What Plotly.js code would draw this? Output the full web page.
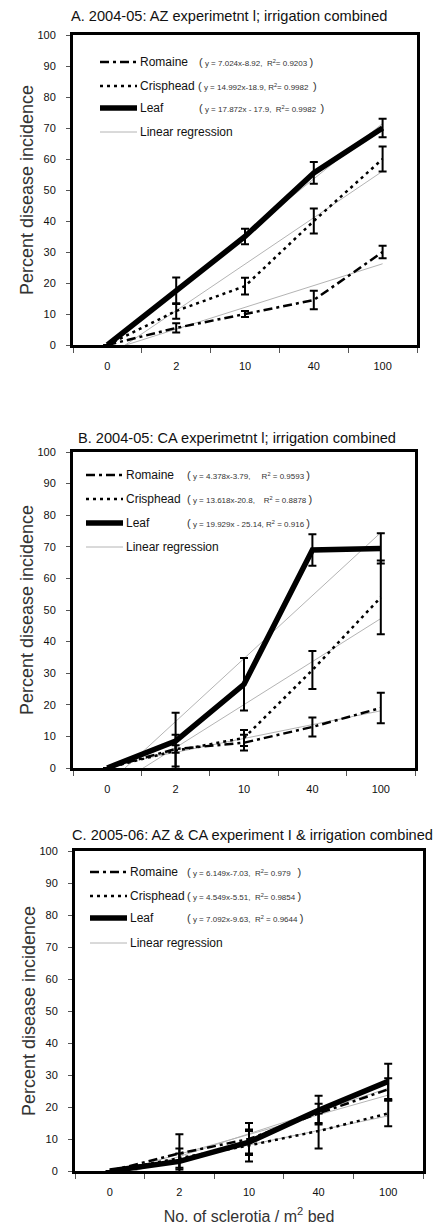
<!DOCTYPE html>
<html>
<head>
<meta charset="utf-8">
<script src="https://cdn.plot.ly/plotly-3.0.1.min.js"></script>
<style>html,body{margin:0;padding:0;background:#fff;}#chart{width:440px;height:1226px;}</style>
</head>
<body>
<div id="chart"></div>
<script>
// ---------- DATA ----------
var categories = ["0", "2", "10", "40", "100"];
var fitEnds = ["0", "100"];

// Panel A: 2004-05 AZ
var romaineA = [0, 5.5, 10, 14.5, 30];
var romaineErrA = [0, 1.5, 1, 3, 2];
var crispA = [0, 11, 19, 40, 60];
var crispErrA = [0, 2.5, 2.7, 4, 4];
var leafA = [0, 17.5, 35, 55.5, 70];
var leafErrA = [0, 4.3, 2.5, 3.5, 3];
var romaineFitA = [-1.9, 26.2];
var crispFitA = [-3.9, 56.06];
var leafFitA = [-0.03, 71.46];
var eqA = ["y = 7.024x-8.92,  R<sup>2</sup>= 0.9203", "y = 14.992x-18.9, R<sup>2</sup>= 0.9982 ", "y = 17.872x - 17.9,  R<sup>2</sup>= 0.9982 "];

// Panel B: 2004-05 CA
var romaineB = [0, 6, 8, 13, 19];
var romaineErrB = [0, 1.2, 2.5, 3, 4.8];
var crispB = [0, 5.5, 9.5, 31, 54];
var crispErrB = [0, 5, 2.5, 6, 11.7];
var leafB = [0, 8.5, 26.5, 69, 69.5];
var leafErrB = [0, 9, 8.3, 5, 4.8];
var romaineFitB = [0.59, 18.1];
var crispFitB = [-7.18, 47.29];
var leafFitB = [-5.21, 74.5];
var eqB = ["y = 4.378x-3.79,     R<sup>2</sup> = 0.9593", "y = 13.618x-20.8,    R<sup>2</sup> = 0.8878", "y = 19.929x - 25.14, R<sup>2</sup> = 0.916"];

// Panel C: 2005-06 AZ & CA
var romaineC = [0, 5.5, 10, 18, 25.5];
var romaineErrC = [0, 6, 5, 3, 3.5];
var crispC = [0, 4, 8, 12.5, 18];
var crispErrC = [0, 3, 5, 5.5, 4];
var leafC = [0, 3, 9, 19, 28];
var leafErrC = [0, 2.5, 3.5, 4.5, 5.5];
var romaineFitC = [-0.88, 23.72];
var crispFitC = [-0.96, 17.23];
var leafFitC = [-2.54, 25.83];
var eqC = ["y = 6.149x-7.03,  R<sup>2</sup>= 0.979  ", "y = 4.549x-5.51,  R<sup>2</sup>= 0.9854", "y = 7.092x-9.63,  R<sup>2</sup> = 0.9644"];

var panelTitles = ["A. 2004-05: AZ experimetnt l; irrigation combined",
                   "B. 2004-05: CA experimetnt l; irrigation combined",
                   "C. 2005-06: AZ & CA experiment I & irrigation combined"];
var seriesNames = ["Romaine", "Crisphead", "Leaf"];
var fitName = "Linear regression";
var yTitle = "Percent disease incidence";
var xTitle = "No. of sclerotia / m<sup>2</sup> bed";

// ---------- LAYOUT HELPERS ----------
var W = 440, H = 1226;
function px(v) { return v / W; }
function py(v) { return 1 - v / H; }
var NARROW = "'Liberation Sans Narrow', 'Arial Narrow', 'Liberation Sans', Arial, sans-serif";
var SANS = "'Liberation Sans', Arial, sans-serif";

var panels = [
  {data: [romaineA, crispA, leafA], err: [romaineErrA, crispErrA, leafErrA], fit: [romaineFitA, crispFitA, leafFitA], eq: eqA,
   box: [73, 417, 35, 345], title: [229, 16], sample: [100, 137], rows: [62, 86, 108, 132], eqx: [197, 196, 197]},
  {data: [romaineB, crispB, leafB], err: [romaineErrB, crispErrB, leafErrB], fit: [romaineFitB, crispFitB, leafFitB], eq: eqB,
   box: [73, 415, 452, 768], title: [237, 438], sample: [86, 123], rows: [475, 499, 523, 547], eqx: [185, 185, 185]},
  {data: [romaineC, crispC, leafC], err: [romaineErrC, crispErrC, leafErrC], fit: [romaineFitC, crispFitC, leafFitC], eq: eqC,
   box: [75, 423, 851, 1171], title: [253, 835], sample: [90, 127], rows: [872, 896, 918, 943], eqx: [185, 185, 185]}
];

var styles = [
  {dash: "9px,4px,3px,4px", width: 2.5},
  {dash: "3px,4px", width: 2.5},
  {dash: "solid", width: 5.5}
];
var fitStyle = {color: "#b4b4b4", width: 1};

var traces = [];
var annotations = [];
var shapes = [];
var layout = {
  width: W, height: H,
  margin: {l: 0, r: 0, t: 0, b: 0},
  paper_bgcolor: "#fff", plot_bgcolor: "#fff",
  font: {family: NARROW, color: "#111", size: 12},
  showlegend: false
};

panels.forEach(function (p, i) {
  var n = i === 0 ? "" : String(i + 1);
  var xa = "x" + n, ya = "y" + n;

  // regression lines (underneath)
  p.fit.forEach(function (f, k) {
    traces.push({
      type: "scatter", mode: "lines", x: fitEnds, y: f, xaxis: xa, yaxis: ya,
      line: fitStyle, name: fitName + " (" + seriesNames[k] + ")", hoverinfo: "skip"
    });
  });
  // data series with error bars
  p.data.forEach(function (d, k) {
    traces.push({
      type: "scatter", mode: "lines", x: categories, y: d, xaxis: xa, yaxis: ya,
      line: {color: "#000", width: styles[k].width, dash: styles[k].dash},
      error_y: {type: "data", array: p.err[k], visible: true, color: "#000", thickness: 2, width: 4},
      name: seriesNames[k]
    });
  });

  var b = p.box;
  layout["xaxis" + n] = {
    type: "category", categoryorder: "array", categoryarray: categories,
    domain: [px(b[0]), px(b[1])], anchor: ya,
    range: [-0.5, 4.5], tickson: "boundaries", ticks: "outside", ticklen: 5, tickwidth: 1, tickcolor: "#555",
    showline: true, mirror: true, linewidth: 3, linecolor: "#000", showgrid: false, zeroline: false,
    tickfont: {family: NARROW, size: 11, color: "#111"}, ticklabelstandoff: 9, fixedrange: true
  };
  layout["yaxis" + n] = {
    domain: [py(b[3]), py(b[2])], anchor: xa, range: [0, 100], dtick: 10,
    ticks: "outside", ticklen: 4, tickwidth: 1, tickcolor: "#555",
    showline: true, mirror: true, linewidth: 3, linecolor: "#000", showgrid: false, zeroline: false,
    tickfont: {family: NARROW, size: 11, color: "#111"}, ticklabelstandoff: 8,
    title: {text: yTitle, font: {family: SANS, size: 18, color: "#333"}, standoff: 0}, fixedrange: true
  };
  if (i === 2) {
    layout["xaxis" + n].title = {text: xTitle, font: {family: SANS, size: 16, color: "#333"}, standoff: 14};
  }

  // panel title
  annotations.push({
    xref: "paper", yref: "paper", x: px(p.title[0]), y: py(p.title[1]), xanchor: "center", yanchor: "middle",
    text: panelTitles[i], showarrow: false, font: {family: NARROW, size: 14.6, color: "#111"}
  });

  // legend (line samples + labels + equations)
  var legendLines = [
    {color: "#000", width: styles[0].width, dash: styles[0].dash},
    {color: "#000", width: styles[1].width, dash: styles[1].dash},
    {color: "#000", width: styles[2].width, dash: "solid"},
    {color: fitStyle.color, width: fitStyle.width, dash: "solid"}
  ];
  var labels = seriesNames.concat([fitName]);
  labels.forEach(function (lab, k) {
    var yy = py(p.rows[k]);
    shapes.push({
      type: "line", xref: "paper", yref: "paper",
      x0: px(p.sample[0]), x1: px(p.sample[1]), y0: yy, y1: yy, line: legendLines[k]
    });
    annotations.push({
      xref: "paper", yref: "paper", x: px(p.sample[1] + 1), y: yy, xanchor: "left", yanchor: "middle",
      text: lab, showarrow: false, font: {family: NARROW, size: 12, color: "#111"}
    });
  });
  p.eq.forEach(function (t, k) {
    annotations.push({
      xref: "paper", yref: "paper", x: px(p.eqx[k]), y: py(p.rows[k]), xanchor: "left", yanchor: "middle",
      text: "<span style='font-size:11px'>(</span> " + t + " <span style='font-size:11px'>)</span>",
      showarrow: false, font: {family: NARROW, size: 8, color: "#333"}
    });
  });
});
layout.annotations = annotations;
layout.shapes = shapes;

Plotly.newPlot("chart", traces, layout, {staticPlot: true, displayModeBar: false});
</script>
</body>
</html>
